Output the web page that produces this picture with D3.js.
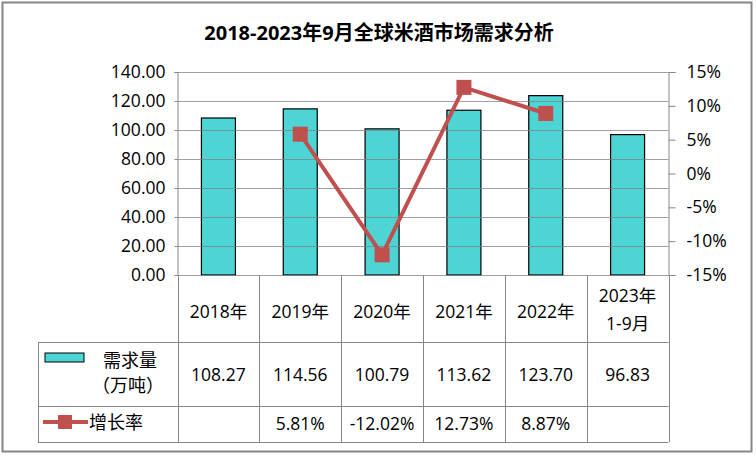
<!DOCTYPE html>
<html><head><meta charset="utf-8">
<script src="https://cdn.jsdelivr.net/npm/d3@7"></script>
<style>
body{margin:0;background:#fff;}
text{font-family:"Open Sans","Noto Sans CJK SC",sans-serif;}
</style></head>
<body><svg id="c" width="756" height="456"></svg>
<script>
const categories = ["2018年","2019年","2020年","2021年","2022年","2023年\n1-9月"];
const demand = [108.27,114.56,100.79,113.62,123.70,96.83];
const growth = [null,5.81,-12.02,12.73,8.87,null];
const leftTicks = [0,20,40,60,80,100,120,140];
const rightTicks = [-15,-10,-5,0,5,10,15];
const demandLabel = ["需求量","（万吨）"];
const growthLabel = "增长率";
const title = "2018-2023年9月全球米酒市场需求分析";

const svg = d3.select("#c");
const L = 177.5, R = 668.5, T = 72, B = 275;
const FS = 17.5;
svg.append("rect").attr("x",2.5).attr("y",2.5).attr("width",749).attr("height",449)
  .attr("fill","#fff").attr("stroke","#868686").attr("stroke-width",2);

svg.append("text").attr("x",379).attr("y",40).attr("text-anchor","middle")
  .attr("font-size",20).attr("font-weight","bold")
  .attr("font-family","'Noto Sans CJK SC',sans-serif").text(title);

const xc = d3.scaleBand().domain(categories).range([L,R]);
const y = d3.scaleLinear().domain([0,140]).range([B,T]);
const y2 = d3.scaleLinear().domain([-15,15]).range([B,T]);

// bars
svg.selectAll("rect.bar").data(demand).join("rect").attr("class","bar")
  .attr("x",(d,i)=>xc(categories[i])+xc.bandwidth()/2-17)
  .attr("width",34)
  .attr("y",d=>y(d)).attr("height",d=>B-y(d))
  .attr("fill","#4dd4d4").attr("stroke","#000").attr("stroke-width",1.2);

// gridlines
svg.append("g").selectAll("line").data(leftTicks).join("line")
  .attr("x1",L).attr("x2",R).attr("y1",d=>Math.round(y(d))+0.5).attr("y2",d=>Math.round(y(d))+0.5)
  .attr("stroke","#808080").attr("stroke-opacity",0.75).attr("stroke-width",1.2);

// left axis
const ga = svg.append("g").attr("transform",`translate(${L},0)`)
  .call(d3.axisLeft(y).tickValues(leftTicks).tickFormat(d3.format(".2f")).tickSize(3).tickPadding(9));
ga.select(".domain").attr("stroke","#868686");
ga.selectAll("line").attr("stroke","#868686");
ga.selectAll("text").attr("font-size",FS).attr("fill","#000");

const gb = svg.append("g").attr("transform",`translate(${R},0)`)
  .call(d3.axisRight(y2).tickValues(rightTicks).tickFormat(d=>d+"%").tickSize(7).tickPadding(11));
gb.select(".domain").attr("stroke","#868686");
gb.selectAll("line").attr("stroke","#868686");
gb.selectAll("text").attr("font-size",FS).attr("fill","#000");

// line
const pts = growth.map((g,i)=>({g,i})).filter(d=>d.g!==null);
const line = d3.line().x(d=>xc(categories[d.i])+xc.bandwidth()/2).y(d=>y2(d.g));
svg.append("path").datum(pts).attr("d",line).attr("fill","none")
  .attr("stroke","#c0504d").attr("stroke-width",4);
svg.selectAll("rect.mk").data(pts).join("rect").attr("class","mk")
  .attr("x",d=>xc(categories[d.i])+xc.bandwidth()/2-7.5)
  .attr("y",d=>y2(d.g)-7.5).attr("width",15).attr("height",15).attr("fill","#c0504d");

// table
const gridC = "#868686";
const tg = svg.append("g");
[342.5,406.5,442.5].forEach(yy=>{
  tg.append("line").attr("x1",38).attr("x2",R).attr("y1",yy).attr("y2",yy).attr("stroke",gridC);
});
tg.append("line").attr("x1",38.5).attr("x2",38.5).attr("y1",342).attr("y2",442).attr("stroke",gridC);
const bounds = categories.map(c=>xc(c)).concat([R]);
tg.selectAll("line.v").data(bounds).join("line").attr("class","v")
  .attr("x1",d=>Math.round(d)+0.5).attr("x2",d=>Math.round(d)+0.5)
  .attr("y1",B).attr("y2",442).attr("stroke",gridC);

categories.forEach((c,i)=>{
  const cx = xc(c)+xc.bandwidth()/2;
  const parts = c.split("\n");
  const t = tg.append("text").attr("text-anchor","middle").attr("font-size",FS);
  if(parts.length===1){
    t.attr("x",cx).attr("y",318).text(parts[0]);
  } else {
    t.append("tspan").attr("x",cx).attr("y",302).text(parts[0]);
    t.append("tspan").attr("x",cx).attr("y",330).text(parts[1]);
  }
  tg.append("text").attr("x",cx).attr("y",381).attr("text-anchor","middle").attr("font-size",FS)
    .text(demand[i].toFixed(2));
  if(growth[i]!==null)
    tg.append("text").attr("x",cx).attr("y",430).attr("text-anchor","middle").attr("font-size",FS)
      .text(growth[i].toFixed(2)+"%");
});

// legend in table
tg.append("rect").attr("x",45).attr("y",353).attr("width",39).attr("height",9)
  .attr("fill","#4dd4d4").attr("stroke","#000").attr("stroke-width",1);
tg.append("text").attr("x",130).attr("y",367).attr("text-anchor","middle").attr("font-size",18)
  .attr("font-family","'Noto Sans CJK SC',sans-serif").text(demandLabel[0]);
tg.append("text").attr("x",128).attr("y",392).attr("text-anchor","middle").attr("font-size",18)
  .attr("font-family","'Noto Sans CJK SC',sans-serif").text(demandLabel[1]);
tg.append("line").attr("x1",43).attr("x2",88).attr("y1",422).attr("y2",422)
  .attr("stroke","#c0504d").attr("stroke-width",4);
tg.append("rect").attr("x",58).attr("y",415).attr("width",14).attr("height",14).attr("fill","#c0504d");
tg.append("text").attr("x",89).attr("y",429).attr("font-size",18)
  .attr("font-family","'Noto Sans CJK SC',sans-serif").text(growthLabel);
</script></body></html>
